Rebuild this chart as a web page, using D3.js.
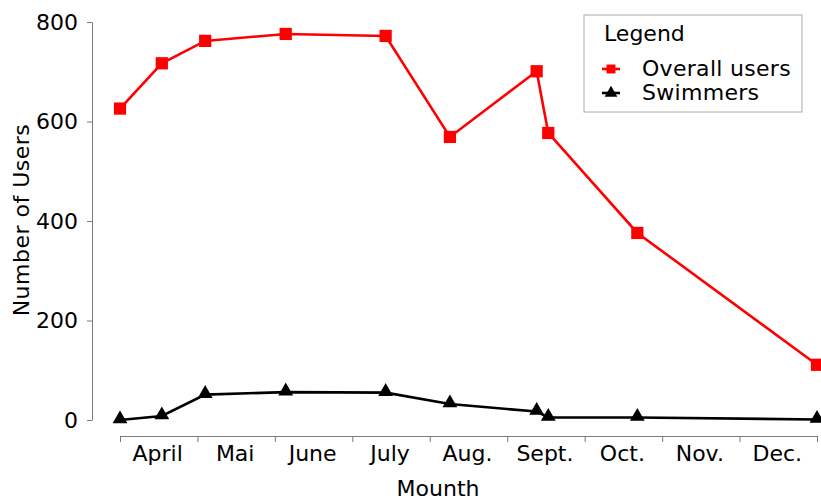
<!DOCTYPE html>
<html>
<head>
<meta charset="utf-8">
<script src="https://cdn.jsdelivr.net/npm/d3@7"></script>
<style>
  body { margin: 0; background: #fff; }
  text { font-family: "DejaVu Sans", Verdana, sans-serif; fill: #000; }
</style>
</head>
<body>
<svg width="821" height="500"></svg>
<script>
// Data. Positions along x are in month units (April = 4).
var monthLabels = ['April', 'Mai', 'June', 'July', 'Aug.', 'Sept.', 'Oct.', 'Nov.', 'Dec.'];
var monthPos = [4.0, 4.54, 5.10, 6.14, 7.43, 8.26, 9.38, 9.53, 10.68, 13.0];
var overallUsers = [626, 717, 762, 776, 772, 569, 701, 577, 376, 111];
var swimmers = [0, 8, 51, 56, 55, 32, 17, 5, 5, 1];
var yTicks = [0, 200, 400, 600, 800];

var svg = d3.select('svg');
var fontSize = 22;

// Scales
var x = d3.scaleLinear().domain([4, 13]).range([120, 817]);
var y = d3.scaleLinear().domain([0, 800]).range([420, 22]);

var axisColor = '#7a7a7a';

// Y axis
var yAxis = svg.append('g')
  .attr('transform', 'translate(92,0)')
  .call(d3.axisLeft(y).tickValues(yTicks).tickSize(5).tickPadding(9).tickSizeOuter(0));
yAxis.select('.domain').attr('stroke', axisColor);
yAxis.selectAll('.tick line').attr('stroke', axisColor);
yAxis.selectAll('.tick text').attr('font-size', fontSize).attr('font-family', '"DejaVu Sans", sans-serif');

// X axis: ticks at month boundaries, labels centred in each month
var monthEdges = d3.range(4, 14);
var xAxis = svg.append('g')
  .attr('transform', 'translate(0,436)')
  .call(d3.axisBottom(x).tickValues(monthEdges).tickFormat('').tickSize(6).tickSizeOuter(0));
xAxis.select('.domain').attr('stroke', axisColor);
xAxis.selectAll('.tick line').attr('stroke', axisColor);

svg.append('g').selectAll('text')
  .data(monthLabels)
  .enter().append('text')
  .attr('x', function(d, i) { return x(4.5 + i) - 1; })
  .attr('y', 461)
  .attr('text-anchor', 'middle')
  .attr('font-size', fontSize)
  .text(function(d) { return d; });

// Axis titles
svg.append('text')
  .attr('x', 438)
  .attr('y', 496)
  .attr('text-anchor', 'middle')
  .attr('font-size', fontSize)
  .text('Mounth');

svg.append('text')
  .attr('transform', 'translate(29,220) rotate(-90)')
  .attr('text-anchor', 'middle')
  .attr('font-size', fontSize)
  .attr('letter-spacing', 0.5)
  .text('Number of Users');

// Lines
var line = d3.line()
  .x(function(d) { return x(d[0]); })
  .y(function(d) { return y(d[1]); });

var overallData = monthPos.map(function(m, i) { return [m, overallUsers[i]]; });
var swimData = monthPos.map(function(m, i) { return [m, swimmers[i]]; });

svg.append('path')
  .datum(swimData)
  .attr('fill', 'none')
  .attr('stroke', '#000')
  .attr('stroke-width', 2.6)
  .attr('d', line);

svg.append('path')
  .datum(overallData)
  .attr('fill', 'none')
  .attr('stroke', '#ff0000')
  .attr('stroke-width', 2.6)
  .attr('d', line);

var square = d3.symbol().type(d3.symbolSquare).size(150);
var triangle = d3.symbol().type(d3.symbolTriangle).size(95);

svg.append('g').selectAll('path')
  .data(swimData)
  .enter().append('path')
  .attr('transform', function(d) { return 'translate(' + x(d[0]) + ',' + (y(d[1]) - 1) + ')'; })
  .attr('d', triangle)
  .attr('fill', '#000');

svg.append('g').selectAll('path')
  .data(overallData)
  .enter().append('path')
  .attr('transform', function(d) { return 'translate(' + x(d[0]) + ',' + y(d[1]) + ')'; })
  .attr('d', square)
  .attr('fill', '#ff0000');

// Legend
var legend = svg.append('g').attr('transform', 'translate(584,15)');
legend.append('rect')
  .attr('width', 218)
  .attr('height', 97)
  .attr('fill', '#fff')
  .attr('stroke', '#aaa');

legend.append('text')
  .attr('x', 20)
  .attr('y', 26)
  .attr('font-size', fontSize)
  .text('Legend');

var legendItems = [
  { name: 'Overall users', color: '#ff0000', sym: d3.symbol().type(d3.symbolSquare).size(80) },
  { name: 'Swimmers', color: '#000', sym: d3.symbol().type(d3.symbolTriangle).size(70) }
];

var item = legend.selectAll('.item')
  .data(legendItems)
  .enter().append('g')
  .attr('class', 'item')
  .attr('transform', function(d, i) { return 'translate(0,' + (54 + i * 24) + ')'; });

item.append('line')
  .attr('x1', 18).attr('x2', 36)
  .attr('stroke', function(d) { return d.color; })
  .attr('stroke-width', 2.6);

item.append('path')
  .attr('transform', 'translate(27,0)')
  .attr('d', function(d) { return d.sym(); })
  .attr('fill', function(d) { return d.color; });

item.append('text')
  .attr('x', 58)
  .attr('y', 7)
  .attr('font-size', fontSize)
  .attr('letter-spacing', 0.3)
  .text(function(d) { return d.name; });
</script>
</body>
</html>
